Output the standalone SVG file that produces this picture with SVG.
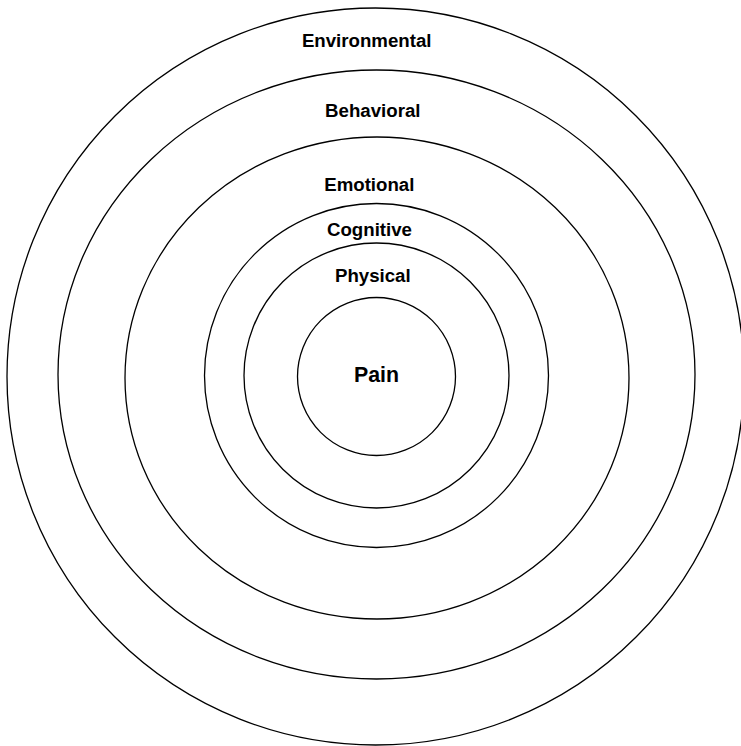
<svg xmlns="http://www.w3.org/2000/svg" width="741" height="746" viewBox="0 0 741 746">
<style>
.ring{fill:none;stroke:#000;stroke-width:1.3}
.lbl{font-family:"Liberation Sans",Arial,sans-serif;font-weight:bold;font-size:18.67px;fill:#000;text-anchor:middle}
.core{font-size:21.33px}
</style>
<rect width="741" height="746" fill="#fff"/>
<g id="environmental">
<circle class="ring" cx="375.5" cy="376.5" r="368.5"/>
<text class="lbl" x="366.7" y="46.5">Environmental</text>
</g>
<g id="behavioral">
<ellipse class="ring" cx="376.5" cy="374.5" rx="318.5" ry="304.5"/>
<text class="lbl" x="372.8" y="117.3">Behavioral</text>
</g>
<g id="emotional">
<ellipse class="ring" cx="377" cy="378" rx="252" ry="241"/>
<text class="lbl" x="369.3" y="190.7">Emotional</text>
</g>
<g id="cognitive">
<circle class="ring" cx="376.5" cy="375.5" r="172"/>
<text class="lbl" x="369.5" y="236.4">Cognitive</text>
</g>
<g id="physical">
<circle class="ring" cx="376.5" cy="375.5" r="132.5"/>
<text class="lbl" x="372.8" y="281.7">Physical</text>
</g>
<g id="pain">
<circle class="ring" cx="376.5" cy="376.5" r="79"/>
<text class="lbl core" x="376.5" y="381.7">Pain</text>
</g>
<g id="connectors"/>
</svg>
